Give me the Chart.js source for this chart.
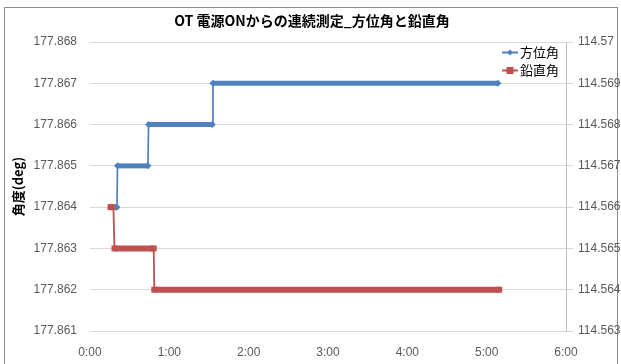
<!DOCTYPE html>
<html>
<head>
<meta charset="utf-8">
<script src="https://cdn.jsdelivr.net/npm/chart.js@4/dist/chart.umd.min.js"></script>
<style>
  html, body { margin: 0; padding: 0; background: #fff; }
  #wrap { position: relative; width: 621px; height: 364px; }
  canvas { display: block; }
</style>
</head>
<body>
<div id="wrap"><canvas id="c" width="621" height="364"></canvas></div>
<script>
// Continuous measurement after power-on: azimuth (left axis) and vertical angle (right axis)
const chartTitle = 'OT 電源ONからの連続測定_方位角と鉛直角';
const yAxisTitle = '角度(deg)';
const seriesNames = ['方位角', '鉛直角'];

// elapsed time in minutes, with the reading at each step of the trace
const azimuthTimes  = [20.4, 20.8, 43.8, 44.3, 92.5, 93.0, 308.5];
const azimuthValues = [177.864, 177.865, 177.865, 177.866, 177.866, 177.867, 177.867];
const verticalTimes  = [15.5, 17.7, 18.5, 48.2, 48.6, 309.5];
const verticalValues = [114.566, 114.566, 114.565, 114.565, 114.564, 114.564];

// axis ticks
const xTickValues = [0, 60, 120, 180, 240, 300, 360];
const xTickLabels = ['0:00', '1:00', '2:00', '3:00', '4:00', '5:00', '6:00'];
const leftTickValues = [177.861, 177.862, 177.863, 177.864, 177.865, 177.866, 177.867, 177.868];
const leftTickLabels = ['177.861', '177.862', '177.863', '177.864', '177.865', '177.866', '177.867', '177.868'];
const rightTickValues = [114.563, 114.564, 114.565, 114.566, 114.567, 114.568, 114.569, 114.570];
const rightTickLabels = ['114.563', '114.564', '114.565', '114.566', '114.567', '114.568', '114.569', '114.57'];

const BLUE = '#4F81BD';
const RED = '#C0504D';
const JP = '"Noto Sans CJK JP", "Noto Sans", sans-serif';
const NUM = '"Liberation Sans", Arial, sans-serif';
const TICK_COLOR = '#595959';
const GRID = '#d9d9d9';

function toPoints(xs, ys) {
  return xs.map((x, i) => ({ x: x, y: ys[i] }));
}

// frame, title and legend drawn over the chart
const decorations = {
  id: 'decorations',
  beforeDraw(chart) {
    const ctx = chart.ctx;
    ctx.save();
    ctx.fillStyle = '#fff';
    ctx.fillRect(0, 0, chart.width, chart.height);
    ctx.strokeStyle = '#8c8c8c';
    ctx.lineWidth = 1;
    ctx.strokeRect(4.5, 7.5, 613, 360);
    ctx.restore();
  },
  afterDraw(chart) {
    const ctx = chart.ctx;
    ctx.save();
    ctx.fillStyle = '#000';
    ctx.font = 'bold 14px ' + JP;
    ctx.textAlign = 'center';
    ctx.textBaseline = 'middle';
    ctx.fillText(chartTitle, 312, 21);

    chart.data.datasets.forEach((ds, i) => {
      const y = 52.5 + i * 18;
      ctx.strokeStyle = ds.borderColor;
      ctx.lineWidth = 2;
      ctx.beginPath();
      ctx.moveTo(502, y);
      ctx.lineTo(518, y);
      ctx.stroke();
      ctx.fillStyle = ds.borderColor;
      ctx.beginPath();
      if (ds.pointStyle === 'rect') {
        ctx.rect(506.5, y - 3.5, 7, 7);
      } else {
        ctx.moveTo(510, y - 3);
        ctx.lineTo(513, y);
        ctx.lineTo(510, y + 3);
        ctx.lineTo(507, y);
        ctx.closePath();
      }
      ctx.fill();
      ctx.fillStyle = '#000';
      ctx.font = '13px ' + JP;
      ctx.textAlign = 'left';
      ctx.textBaseline = 'middle';
      ctx.fillText(ds.label, 520, y);
    });
    ctx.restore();
  }
};

const stepWidth = (flat, slope) => ctx => (ctx.p0.parsed.y === ctx.p1.parsed.y ? flat : slope);

new Chart(document.getElementById('c'), {
  type: 'line',
  data: {
    datasets: [
      {
        label: seriesNames[0],
        data: toPoints(azimuthTimes, azimuthValues),
        yAxisID: 'y',
        borderColor: BLUE,
        backgroundColor: BLUE,
        pointStyle: 'rectRot',
        pointRadius: 3.5,
        pointBorderWidth: 0,
        borderWidth: 5,
        segment: { borderWidth: stepWidth(5, 1.7) },
        tension: 0,
        fill: false
      },
      {
        label: seriesNames[1],
        data: toPoints(verticalTimes, verticalValues),
        yAxisID: 'y1',
        borderColor: RED,
        backgroundColor: RED,
        pointStyle: 'rect',
        pointRadius: 4.2,
        pointBorderWidth: 0,
        borderWidth: 6,
        segment: { borderWidth: stepWidth(6, 1.8) },
        tension: 0,
        fill: false
      }
    ]
  },
  options: {
    responsive: false,
    animation: false,
    events: [],
    layout: { padding: { top: 42, left: 0, right: 0, bottom: 0 } },
    plugins: {
      legend: { display: false },
      title: { display: false },
      tooltip: { enabled: false }
    },
    scales: {
      x: {
        type: 'linear',
        min: 0,
        max: 360,
        afterBuildTicks: s => { s.ticks = xTickValues.map(v => ({ value: v })); },
        grid: { display: false, drawTicks: false },
        border: { display: false },
        ticks: {
          autoSkip: false,
          maxRotation: 0,
          padding: 14,
          color: TICK_COLOR,
          font: { family: NUM, size: 12 },
          callback: (v, i) => xTickLabels[i]
        },
        afterFit: s => { s.height = 33; }
      },
      y: {
        type: 'linear',
        position: 'left',
        min: 177.861,
        max: 177.868,
        afterBuildTicks: s => { s.ticks = leftTickValues.map(v => ({ value: v })); },
        grid: { color: GRID, drawTicks: false, lineWidth: 1 },
        border: { display: false },
        ticks: {
          padding: 13,
          color: TICK_COLOR,
          font: { family: NUM, size: 12 },
          callback: (v, i) => leftTickLabels[i]
        },
        title: {
          display: true,
          text: yAxisTitle,
          color: '#000',
          font: { family: JP, size: 13, weight: 'bold' },
          padding: { top: 10, bottom: 0 }
        },
        afterFit: s => { s.width = 90; }
      },
      y1: {
        type: 'linear',
        position: 'right',
        min: 114.563,
        max: 114.570,
        afterBuildTicks: s => { s.ticks = rightTickValues.map(v => ({ value: v })); },
        grid: { drawOnChartArea: false, drawTicks: true, tickLength: 7, color: GRID },
        border: { display: true, color: '#bfbfbf' },
        ticks: {
          padding: 5,
          color: TICK_COLOR,
          font: { family: NUM, size: 12 },
          callback: (v, i) => rightTickLabels[i]
        },
        afterFit: s => { s.width = 55; }
      }
    }
  },
  plugins: [decorations]
});
</script>
</body>
</html>
